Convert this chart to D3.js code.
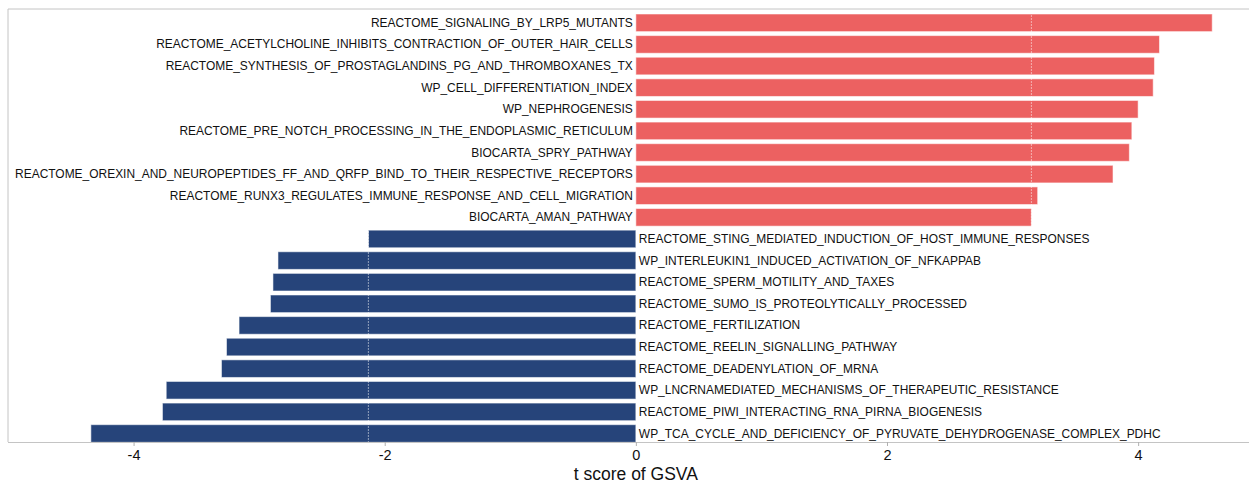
<!DOCTYPE html>
<html>
<head>
<meta charset="utf-8">
<script src="https://cdn.jsdelivr.net/npm/d3@7"></script>
<style>
  html, body { margin: 0; padding: 0; background: #fff; }
  svg { display: block; }
  text { font-family: "Liberation Sans", Arial, sans-serif; }
</style>
</head>
<body>
<svg id="chart" width="1249" height="484"></svg>
<script>
const pathways = [
  "REACTOME_SIGNALING_BY_LRP5_MUTANTS",
  "REACTOME_ACETYLCHOLINE_INHIBITS_CONTRACTION_OF_OUTER_HAIR_CELLS",
  "REACTOME_SYNTHESIS_OF_PROSTAGLANDINS_PG_AND_THROMBOXANES_TX",
  "WP_CELL_DIFFERENTIATION_INDEX",
  "WP_NEPHROGENESIS",
  "REACTOME_PRE_NOTCH_PROCESSING_IN_THE_ENDOPLASMIC_RETICULUM",
  "BIOCARTA_SPRY_PATHWAY",
  "REACTOME_OREXIN_AND_NEUROPEPTIDES_FF_AND_QRFP_BIND_TO_THEIR_RESPECTIVE_RECEPTORS",
  "REACTOME_RUNX3_REGULATES_IMMUNE_RESPONSE_AND_CELL_MIGRATION",
  "BIOCARTA_AMAN_PATHWAY",
  "REACTOME_STING_MEDIATED_INDUCTION_OF_HOST_IMMUNE_RESPONSES",
  "WP_INTERLEUKIN1_INDUCED_ACTIVATION_OF_NFKAPPAB",
  "REACTOME_SPERM_MOTILITY_AND_TAXES",
  "REACTOME_SUMO_IS_PROTEOLYTICALLY_PROCESSED",
  "REACTOME_FERTILIZATION",
  "REACTOME_REELIN_SIGNALLING_PATHWAY",
  "REACTOME_DEADENYLATION_OF_MRNA",
  "WP_LNCRNAMEDIATED_MECHANISMS_OF_THERAPEUTIC_RESISTANCE",
  "REACTOME_PIWI_INTERACTING_RNA_PIRNA_BIOGENESIS",
  "WP_TCA_CYCLE_AND_DEFICIENCY_OF_PYRUVATE_DEHYDROGENASE_COMPLEX_PDHC"
];
const tScores = [
  4.59, 4.17, 4.13, 4.12, 4.00, 3.95, 3.93, 3.80, 3.20, 3.15,
  -2.13, -2.85, -2.89, -2.91, -3.16, -3.26, -3.30, -3.74, -3.77, -4.34
];
const xTicks = [-4, -2, 0, 2, 4];
const xTitle = "t score of GSVA";

const upColor = "#EC6161";
const downColor = "#26447A";

const svg = d3.select("#chart");
const pLeft = 8, pRight = 1248, pTop = 9, pBottom = 442;

const x = d3.scaleLinear().domain([-5.0, 4.875]).range([pLeft, pRight]);
const y = d3.scaleBand().domain(pathways).range([14, 442.3]).paddingInner(0.185).paddingOuter(0);

const data = pathways.map((p, i) => ({ p, v: tScores[i] }));

// bars
svg.append("g").selectAll("rect").data(data).join("rect")
  .attr("x", d => x(Math.min(0, d.v)))
  .attr("width", d => Math.abs(x(d.v) - x(0)))
  .attr("y", d => y(d.p))
  .attr("height", y.bandwidth())
  .attr("fill", d => d.v > 0 ? upColor : downColor)
  .attr("stroke", "#ffffff")
  .attr("stroke-opacity", 0.55)
  .attr("stroke-width", 1);

// dashed threshold lines at the smallest-magnitude value of each group
const posMin = d3.min(tScores.filter(v => v > 0));
const negMax = d3.max(tScores.filter(v => v < 0));
svg.append("g").selectAll("line").data([negMax, posMin]).join("line")
  .attr("x1", d => x(d)).attr("x2", d => x(d))
  .attr("y1", pTop).attr("y2", pBottom)
  .attr("stroke", "#ffffff")
  .attr("stroke-opacity", 0.5)
  .attr("stroke-width", 1)
  .attr("stroke-dasharray", "2,1");

// labels (slightly condensed, as in the reference)
svg.append("g").selectAll("text").data(data).join("text")
  .attr("transform", d => `translate(${d.v > 0 ? x(0) - 3 : x(0) + 3},${y(d.p) + y.bandwidth() / 2 - 0.5}) scale(0.92,1)`)
  .attr("dy", "0.35em")
  .attr("text-anchor", d => d.v > 0 ? "end" : "start")
  .attr("font-size", "13px")
  .attr("fill", "#111")
  .text(d => d.p);

// panel border: left, top, bottom
svg.append("line").attr("x1", pLeft).attr("x2", pLeft).attr("y1", pTop).attr("y2", pBottom)
  .attr("stroke", "#c4c4c4").attr("stroke-width", 1);
svg.append("line").attr("x1", pLeft).attr("x2", 1249).attr("y1", pTop).attr("y2", pTop)
  .attr("stroke", "#c4c4c4").attr("stroke-width", 1);

// x axis
const axis = d3.axisBottom(x).tickValues(xTicks).tickSize(4).tickPadding(4).tickFormat(d3.format("d"));
const gAxis = svg.append("g").attr("transform", `translate(0,${pBottom})`).call(axis);
gAxis.select(".domain").attr("stroke", "#c4c4c4").attr("d", `M${pLeft},0.5H1249`);
gAxis.selectAll(".tick line").attr("stroke", "#b0b0b0");
gAxis.selectAll(".tick text")
  .attr("font-family", "Liberation Sans, Arial, sans-serif")
  .attr("font-size", "14.5px").attr("fill", "#111")
  .text(d => d < 0 ? "-" + Math.abs(d) : d);

svg.append("text")
  .attr("x", x(0)).attr("y", 480)
  .attr("text-anchor", "middle")
  .attr("font-size", "17.5px").attr("fill", "#111")
  .text(xTitle);
</script>
</body>
</html>
